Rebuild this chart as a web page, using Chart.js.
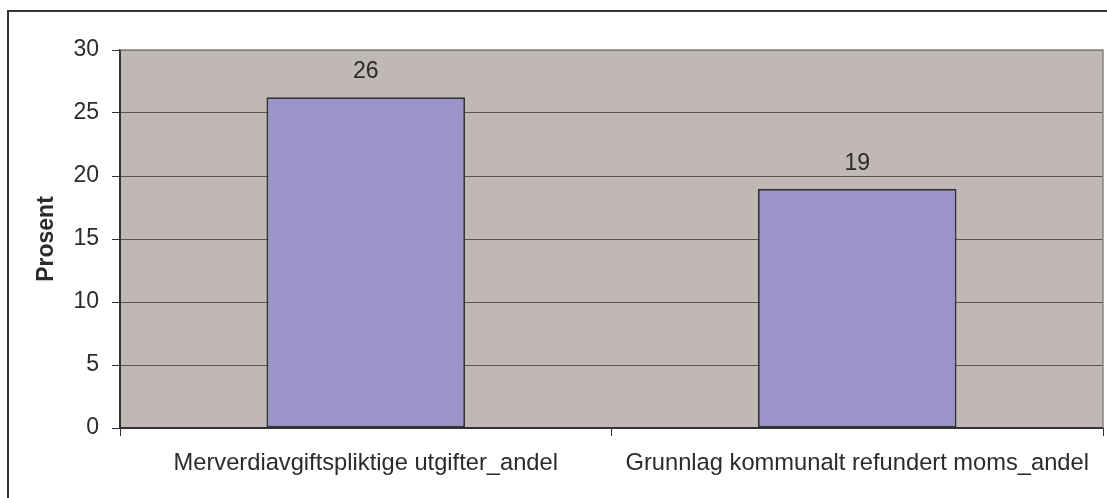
<!DOCTYPE html>
<html>
<head>
<meta charset="utf-8">
<script src="https://cdn.jsdelivr.net/npm/chart.js@4/dist/chart.umd.min.js"></script>
<style>
html,body{margin:0;padding:0;background:#fff;}
#wrap{width:1107px;height:498px;position:relative;}
</style>
</head>
<body>
<div id="wrap"><canvas id="c" width="1107" height="498"></canvas></div>
<script>
const categories = ["Merverdiavgiftspliktige utgifter_andel", "Grunnlag kommunalt refundert moms_andel"];
const values = [26.25, 18.98];
const yTicks = [0, 5, 10, 15, 20, 25, 30];
const yTitle = "Prosent";

const FONT = "'Liberation Sans', Arial, Helvetica, sans-serif";
const TEXT = "#2b2b2b";

const bgPlugin = {
  id: 'bg',
  beforeDraw(chart) {
    const {ctx, chartArea: a} = chart;
    ctx.save();
    ctx.fillStyle = '#fff';
    ctx.fillRect(0, 0, chart.width, chart.height);
    ctx.fillStyle = '#C0B8B5';
    ctx.fillRect(a.left, a.top, a.right - a.left, a.bottom - a.top);
    ctx.restore();
  },
  afterDraw(chart) {
    const {ctx, chartArea: a} = chart;
    ctx.save();
    ctx.strokeStyle = '#8c8484';
    ctx.lineWidth = 1.5;
    ctx.beginPath();
    ctx.moveTo(a.left, a.top);
    ctx.lineTo(a.right, a.top);
    ctx.lineTo(a.right, a.bottom);
    ctx.stroke();
    ctx.strokeStyle = '#333';
    ctx.lineWidth = 2;
    ctx.beginPath();
    ctx.moveTo(8, chart.height + 2);
    ctx.lineTo(8, 11);
    ctx.lineTo(chart.width + 2, 11);
    ctx.stroke();
    ctx.restore();
  }
};

const labelPlugin = {
  id: 'vlabels',
  afterDatasetsDraw(chart) {
    const {ctx} = chart;
    const meta = chart.getDatasetMeta(0);
    ctx.save();
    ctx.font = "23px " + FONT;
    ctx.fillStyle = TEXT;
    ctx.textAlign = 'center';
    ctx.textBaseline = 'alphabetic';
    meta.data.forEach((bar, i) => {
      ctx.fillText(String(Math.round(values[i])), bar.x, bar.y - 19);
    });
    ctx.restore();
  }
};

new Chart(document.getElementById('c'), {
  type: 'bar',
  data: {
    labels: categories,
    datasets: [{
      data: values,
      backgroundColor: '#9B94C8',
      borderColor: '#333',
      borderWidth: 1.8,
      borderSkipped: false,
      barPercentage: 0.404,
      categoryPercentage: 1.0
    }]
  },
  options: {
    responsive: false,
    animation: false,
    events: [],
    layout: { padding: { top: 50, right: 4, left: 0, bottom: 0 } },
    plugins: { legend: { display: false }, tooltip: { enabled: false } },
    scales: {
      x: {
        grid: { display: true, drawOnChartArea: false, drawTicks: true, tickLength: 8, tickColor: '#333', offset: true },
        border: { display: true, color: '#333', width: 2 },
        ticks: { color: TEXT, font: { family: FONT, size: 23.7 }, padding: 13, maxRotation: 0, autoSkip: false },
        afterFit(scale) { scale.height = 70; }
      },
      y: {
        min: 0, max: 30,
        afterBuildTicks(scale) { scale.ticks = yTicks.map(v => ({ value: v })); },
        grid: { color: '#5a5252', lineWidth: 1, tickLength: 8, tickColor: '#333' },
        border: { display: true, color: '#333', width: 2 },
        ticks: { color: TEXT, font: { family: FONT, size: 23 }, padding: 13 },
        title: { display: true, text: yTitle, color: TEXT, font: { family: FONT, size: 23, weight: 'bold' }, padding: { top: 33, bottom: 0 } },
        afterFit(scale) { scale.width = 120; }
      }
    }
  },
  plugins: [bgPlugin, labelPlugin]
});
</script>
</body>
</html>
